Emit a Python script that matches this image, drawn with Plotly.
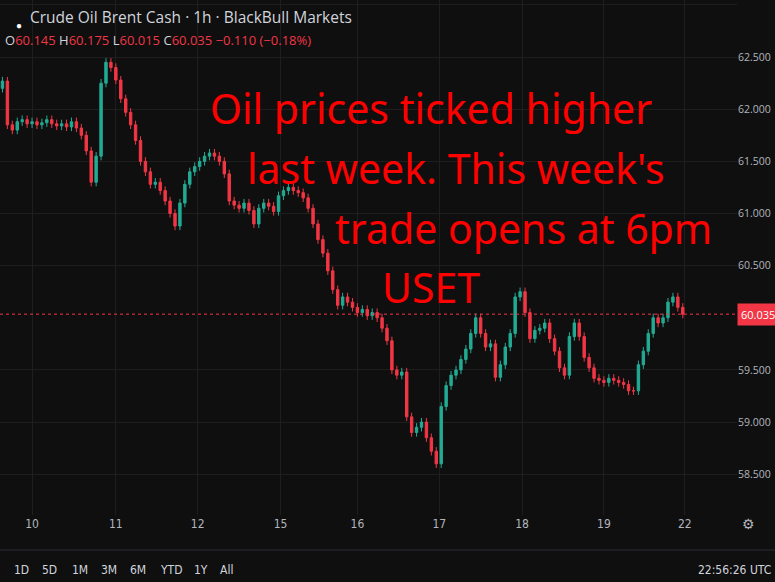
import plotly.graph_objects as go

# hourly-ish closes (every ~5 px)
closes = [62.27, 61.85, 61.80, 61.88, 61.90, 61.86, 61.88, 61.85, 61.87, 61.90,
          61.86, 61.84, 61.86, 61.83, 61.88, 61.82, 61.75, 61.60, 61.30, 61.55,
          62.25, 62.45, 62.40, 62.28, 62.10, 61.97, 61.85, 61.70, 61.50, 61.40,
          61.28, 61.30, 61.22, 61.12, 61.00, 60.88, 61.10, 61.28, 61.40, 61.45,
          61.50, 61.55, 61.58, 61.55, 61.50, 61.38, 61.12, 61.08, 61.05, 61.10,
          61.03, 60.90, 61.05, 61.10, 61.07, 61.02, 61.17, 61.22, 61.25, 61.22,
          61.20, 61.15, 61.05, 60.90, 60.75, 60.62, 60.45, 60.27, 60.12, 60.20,
          60.15, 60.10, 60.05, 60.08, 60.02, 60.05, 60.00, 59.90, 59.78, 59.50,
          59.45, 59.48, 59.05, 58.90, 58.95, 59.00, 58.85, 58.72, 58.60, 59.15,
          59.35, 59.45, 59.50, 59.60, 59.70, 59.85, 60.00, 59.85, 59.72, 59.75,
          59.43, 59.55, 59.72, 59.85, 60.20, 60.25, 60.05, 59.80, 59.88, 59.90,
          59.95, 59.80, 59.68, 59.52, 59.45, 59.82, 59.95, 59.82, 59.62, 59.52,
          59.42, 59.40, 59.38, 59.42, 59.40, 59.38, 59.36, 59.30, 59.30, 59.55,
          59.68, 59.85, 60.00, 59.95, 60.00, 60.15, 60.20, 60.10, 60.035]
first_open = 62.20
wick = 0.04

day_labels = ["10", "11", "12", "15", "16", "17", "18", "19", "22"]
day_pos = [6, 23, 39.6, 56.4, 72, 88.6, 105.4, 122, 138.4]
price_ticks = [58.5, 59.0, 59.5, 60.5, 61.0, 61.5, 62.0, 62.5, 63.0]
last_price = 60.035

opens = [first_open] + closes[:-1]
highs = [max(o, c) + wick for o, c in zip(opens, closes)]
lows = [min(o, c) - wick for o, c in zip(opens, closes)]
xs = list(range(len(closes)))

UP, DOWN = "#22ab94", "#f23645"
BG = "#0f0f0f"
W_PLOT, H_PLOT = 737, 515

fig = go.Figure()
fig.add_trace(go.Candlestick(
    x=xs, open=opens, high=highs, low=lows, close=closes,
    increasing=dict(line=dict(color=UP, width=1), fillcolor=UP),
    decreasing=dict(line=dict(color=DOWN, width=1), fillcolor=DOWN),
    whiskerwidth=0, showlegend=False, hoverinfo="skip"))

fig.add_hline(y=last_price, line=dict(color=DOWN, width=1, dash="dot"))

def px(x, y):
    return x / W_PLOT, 1 - y / H_PLOT

ann = []
for text, x, y in [("Oil prices ticked higher", 208, 108),
                   ("last week. This week's", 245, 168),
                   ("trade opens at 6pm", 333, 228),
                   ("USET", 380, 287)]:
    ax, ay = px(x, y)
    ann.append(dict(text=text, x=ax, y=ay, xref="paper", yref="paper",
                    xanchor="left", yanchor="middle", showarrow=False,
                    font=dict(family="Noto Sans", size=41, color="#ff0000")))

hx, hy = px(28, 17)
ann.append(dict(text="Crude Oil Brent Cash · 1h · BlackBull Markets", x=hx, y=hy,
                xref="paper", yref="paper", xanchor="left", yanchor="middle",
                showarrow=False, font=dict(family="Open Sans", size=15.5, color="#d1d4dc")))
hx, hy = px(14, 16)
ann.append(dict(text="●", x=hx, y=hy, xref="paper", yref="paper", showarrow=False,
                font=dict(size=10, color="#ffffff")))
ox, oy = px(3, 40)
ann.append(dict(
    text=("<span style='color:#d1d4dc'>O</span>60.145 <span style='color:#d1d4dc'>H</span>60.175 "
          "<span style='color:#d1d4dc'>L</span>60.015 <span style='color:#d1d4dc'>C</span>60.035 "
          "−0.110 (−0.18%)"),
    x=ox, y=oy, xref="paper", yref="paper", xanchor="left", yanchor="middle",
    showarrow=False, font=dict(family="Open Sans", size=13, color="#f23645")))

# price tag on the right
ann.append(dict(text="60.035", x=1.0, xref="paper", y=last_price, yref="y",
                xanchor="left", yanchor="middle", showarrow=False, bgcolor=DOWN,
                borderpad=3, font=dict(family="Open Sans", size=11, color="#ffffff")))

# bottom bar
for t, xpos in zip(["1D", "5D", "1M", "3M", "6M", "YTD", "1Y", "All"],
                   [12, 40, 70, 99, 128, 158, 192, 218]):
    ann.append(dict(text=t, x=xpos / W_PLOT, y=(515 - 570) / H_PLOT,
                    xref="paper", yref="paper", xanchor="left", yanchor="middle",
                    showarrow=False, font=dict(family="DejaVu Sans Condensed", size=12, color="#d1d4dc")))
ann.append(dict(text="22:56:26 UTC", x=773 / W_PLOT, y=(515 - 570) / H_PLOT, xref="paper",
                yref="paper", xanchor="right", yanchor="middle", showarrow=False,
                font=dict(family="DejaVu Sans Condensed", size=12, color="#d1d4dc")))
ann.append(dict(text="⚙", x=757 / W_PLOT, y=(515 - 535) / H_PLOT, xref="paper", yref="paper",
                showarrow=False, font=dict(size=14, color="#b2b5be")))

fig.add_shape(type="line", xref="paper", yref="paper", x0=0, x1=775 / W_PLOT,
              y0=(515 - 550) / H_PLOT, y1=(515 - 550) / H_PLOT,
              line=dict(color="#2a2e39", width=1))

fig.update_layout(
    width=775, height=582, margin=dict(l=0, r=38, t=0, b=67),
    paper_bgcolor=BG, plot_bgcolor=BG, annotations=ann,
    xaxis=dict(range=[-0.5, 745 / 5], tickvals=day_pos, ticktext=day_labels,
               rangeslider=dict(visible=False), showgrid=True, gridcolor="#1e1e1e",
               zeroline=False, ticks="", tickfont=dict(family="DejaVu Sans Condensed", size=12, color="#b2b5be")),
    yaxis=dict(range=[63.0 - 516 / 105.5, 63.0 + 5 / 105.5], side="right",
               tickvals=price_ticks, ticktext=[f"{v:.3f}" for v in price_ticks],
               showgrid=True, gridcolor="#1e1e1e", zeroline=False, ticks="",
               tickfont=dict(family="Open Sans", size=10.5, color="#b2b5be")),
)

fig.write_html("out.html", config={"displayModeBar": False},
               post_script="document.body.style.margin='0';document.body.style.background='#0f0f0f';")
